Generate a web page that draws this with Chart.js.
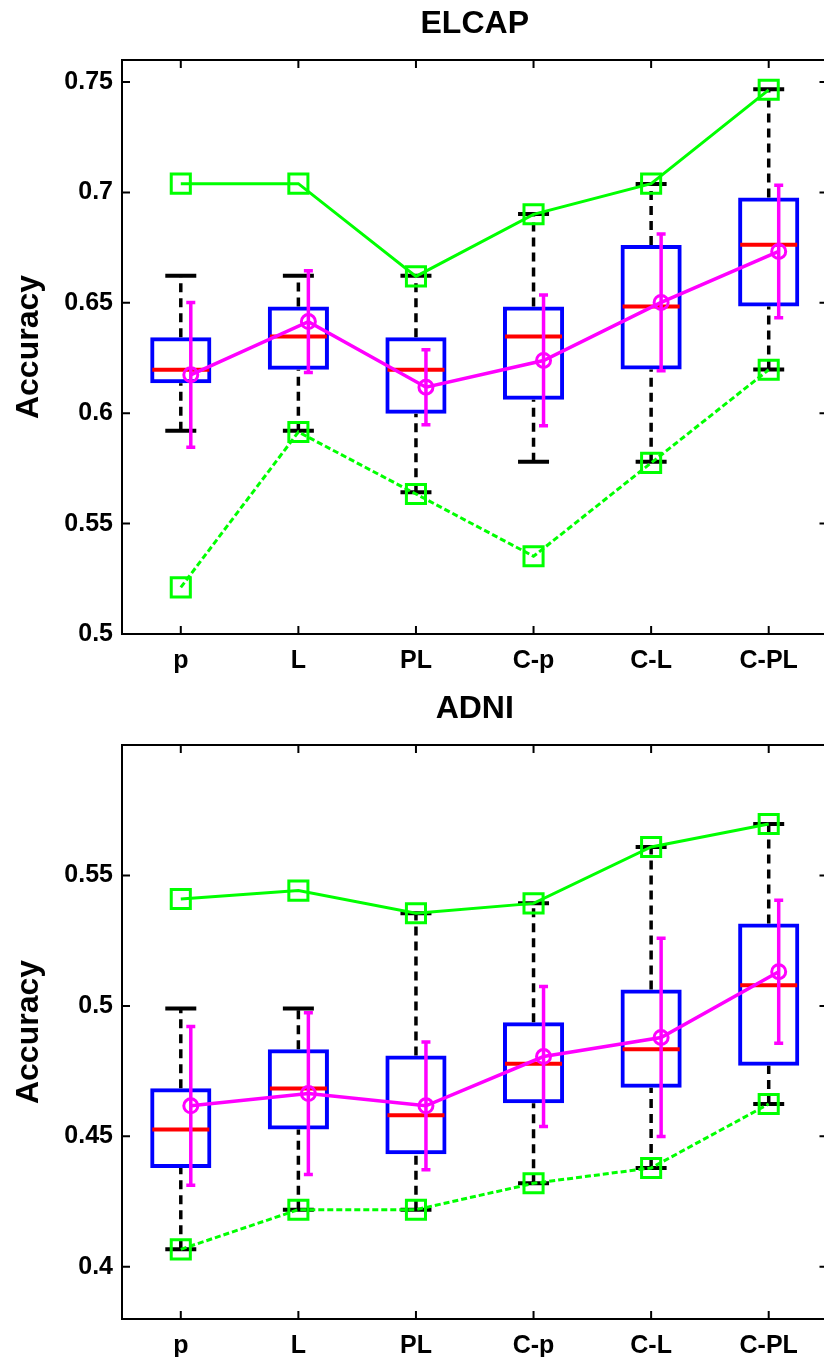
<!DOCTYPE html>
<html><head><meta charset="utf-8">
<script src="https://cdn.jsdelivr.net/npm/chart.js@4.4.1/dist/chart.umd.min.js"></script>
<style>
html,body{margin:0;padding:0;background:#fff;overflow:hidden;width:824px;height:1357px;position:relative;}
#c1{position:absolute;left:0;top:0;}
#c2{position:absolute;left:0;top:685px;}
</style></head><body>
<canvas id="c1" width="860" height="685"></canvas>
<canvas id="c2" width="860" height="672"></canvas>
<script>
// ---------- data ----------
const categories = ['p', 'L', 'PL', 'C-p', 'C-L', 'C-PL'];

const elcapTitle = 'ELCAP';
const elcapYTicks = [0.5, 0.55, 0.6, 0.65, 0.7, 0.75];
const elcapQ1     = [0.6136, 0.6197, 0.5998, 0.6061, 0.6198, 0.6484];
const elcapMedian = [0.6197, 0.6347, 0.6197, 0.6347, 0.6484, 0.6763];
const elcapQ3     = [0.6344, 0.6484, 0.6344, 0.6484, 0.6762, 0.6977];
const elcapWLow   = [0.5921, 0.5921, 0.5642, 0.5780, 0.5780, 0.6198];
const elcapWHigh  = [0.6623, 0.6623, 0.6623, 0.6902, 0.7038, 0.7468];
const elcapMax    = [0.7040, 0.7040, 0.6620, 0.6901, 0.7040, 0.7465];
const elcapMin    = [0.5211, 0.5915, 0.5634, 0.5352, 0.5775, 0.6197];
const elcapMean   = [0.6174, 0.6415, 0.6118, 0.6239, 0.6502, 0.6733];
const elcapSd     = [0.0328, 0.0230, 0.0170, 0.0296, 0.0310, 0.0300];

const adniTitle = 'ADNI';
const adniYTicks = [0.4, 0.45, 0.5, 0.55];
const adniQ1     = [0.4379, 0.4526, 0.4431, 0.4627, 0.4686, 0.4771];
const adniMedian = [0.4526, 0.4683, 0.4581, 0.4778, 0.4834, 0.5079];
const adniQ3     = [0.4684, 0.4834, 0.4810, 0.4937, 0.5063, 0.5316];
const adniWLow   = [0.4067, 0.4219, 0.4219, 0.4320, 0.4379, 0.4624];
const adniWHigh  = [0.4990, 0.4990, 0.5355, 0.5393, 0.5609, 0.5697];
const adniMax    = [0.5410, 0.5442, 0.5355, 0.5393, 0.5609, 0.5697];
const adniMin    = [0.4067, 0.4219, 0.4219, 0.4320, 0.4379, 0.4624];
const adniMean   = [0.4617, 0.4664, 0.4617, 0.4806, 0.4879, 0.5131];
const adniSd     = [0.0304, 0.0310, 0.0245, 0.0268, 0.0380, 0.0274];

// ---------- style ----------
const FONT = '"Liberation Sans", Arial, Helvetica, sans-serif';
const MEAN_SHIFT = 0.085;   // horizontal offset of mean/error bars (axis units)
const TICK_LEN = 8;
const PLOT_LEFT = 122;
const PLOT_BOTTOM = 634;
const PLOT_RIGHT_PAD = 27;

const framePlugin = {
  id: 'frame',
  afterDraw(chart) {
    const {ctx, chartArea: a, scales: {x, y}} = chart;
    ctx.save();
    ctx.strokeStyle = '#000';
    ctx.lineWidth = 2;
    ctx.strokeRect(a.left, a.top, a.right - a.left, a.bottom - a.top);
    ctx.beginPath();
    x.ticks.forEach(t => {
      const px = x.getPixelForValue(t.value);
      ctx.moveTo(px, a.bottom); ctx.lineTo(px, a.bottom - TICK_LEN);
      ctx.moveTo(px, a.top); ctx.lineTo(px, a.top + TICK_LEN);
    });
    y.ticks.forEach(t => {
      const py = y.getPixelForValue(t.value);
      ctx.moveTo(a.left, py); ctx.lineTo(a.left + TICK_LEN, py);
      ctx.moveTo(a.right, py); ctx.lineTo(a.right - TICK_LEN, py);
    });
    ctx.stroke();
    ctx.restore();
  }
};

function pts(arr, shift) {
  return arr.map((v, i) => ({x: i + 1 + (shift || 0), y: v}));
}

function build(id, height, title, yMin, yMax, yTicks, q1, med, q3, wLo, wHi, mx, mn, mean, sd) {
  const whisk = [];
  const caps = [];
  const err = [];
  const errCaps = [];
  categories.forEach((c, i) => {
    const xi = i + 1;
    whisk.push({x: xi, y: wLo[i]}, {x: xi, y: q1[i]}, {x: xi, y: null},
               {x: xi, y: q3[i]}, {x: xi, y: wHi[i]}, {x: xi, y: null});
    caps.push({x: xi, y: wLo[i]}, {x: xi, y: wHi[i]});
    const xm = xi + MEAN_SHIFT;
    err.push({x: xm, y: mean[i] - sd[i]}, {x: xm, y: mean[i] + sd[i]}, {x: xm, y: null});
    errCaps.push({x: xm, y: mean[i] - sd[i]}, {x: xm, y: mean[i] + sd[i]});
  });

  const datasets = [
    { type: 'line', data: pts(mx), borderColor: '#00ff00', borderWidth: 3,
      pointStyle: 'rect', pointRadius: 13.5, pointBorderWidth: 3,
      pointBorderColor: '#00ff00', pointBackgroundColor: 'rgba(0,0,0,0)', order: 1 },
    { type: 'line', data: pts(mn), borderColor: '#00ff00', borderWidth: 3, borderDash: [6, 3],
      pointStyle: 'rect', pointRadius: 13.5, pointBorderWidth: 3,
      pointBorderColor: '#00ff00', pointBackgroundColor: 'rgba(0,0,0,0)', order: 2 },
    { type: 'line', data: pts(mean, MEAN_SHIFT), borderColor: '#ff00ff', borderWidth: 3.5,
      pointStyle: 'circle', pointRadius: 7, pointBorderWidth: 3,
      pointBorderColor: '#ff00ff', pointBackgroundColor: 'rgba(0,0,0,0)', order: 3 },
    { type: 'line', data: err, borderColor: '#ff00ff', borderWidth: 3.5, spanGaps: false,
      pointRadius: 0, order: 4 },
    { type: 'line', data: errCaps, showLine: false, pointStyle: 'line', pointRadius: 4.5,
      pointBorderWidth: 3.5, pointBorderColor: '#ff00ff', order: 4 },
    { type: 'line', data: pts(med), showLine: false, pointStyle: 'line', pointRadius: 28.5,
      pointBorderWidth: 4, pointBorderColor: '#ff0000', order: 5 },
    { type: 'line', data: caps, showLine: false, pointStyle: 'line', pointRadius: 15.5,
      pointBorderWidth: 4, pointBorderColor: '#000', order: 6 },
    { type: 'line', data: whisk, borderColor: '#000', borderWidth: 3.5, borderDash: [9, 6],
      spanGaps: false, pointRadius: 0, order: 7 },
    { type: 'bar', data: categories.map((c, i) => ({x: i + 1, y: [q1[i], q3[i]]})),
      backgroundColor: 'rgba(0,0,0,0)', borderColor: '#0000ff', borderWidth: 4,
      borderSkipped: false, barPercentage: 0.52, categoryPercentage: 1, grouped: false, order: 8 }
  ];

  return new Chart(document.getElementById(id), {
    data: { datasets },
    plugins: [framePlugin],
    options: {
      responsive: false,
      animation: false,
      events: [],
      layout: { padding: { left: 0, right: PLOT_RIGHT_PAD, top: 0, bottom: 0 } },
      elements: { line: { tension: 0 } },
      plugins: {
        legend: { display: false },
        tooltip: { enabled: false },
        title: {
          display: true, text: title, color: '#000', fullSize: false,
          font: { family: FONT, size: 32, weight: 'bold', lineHeight: 1.2 },
          padding: { top: 5, bottom: 16.6 }
        }
      },
      scales: {
        x: {
          type: 'linear', min: 0.5, max: 6.5, offset: false,
          grid: { display: false, drawTicks: false, offset: false },
          border: { display: false },
          afterBuildTicks: s => { s.ticks = categories.map((c, i) => ({value: i + 1})); },
          afterFit: s => { s.height = height - PLOT_BOTTOM; },
          ticks: {
            autoSkip: false, maxRotation: 0, padding: 12, color: '#000',
            font: { family: FONT, size: 25, weight: 'bold' },
            callback: (v, i) => categories[i]
          }
        },
        y: {
          type: 'linear', min: yMin, max: yMax,
          grid: { display: false, drawTicks: false },
          border: { display: false },
          afterBuildTicks: s => { s.ticks = yTicks.map(v => ({value: v})); },
          afterFit: s => { s.width = PLOT_LEFT; },
          ticks: {
            padding: 9, color: '#000',
            font: { family: FONT, size: 25, weight: 'bold' },
            callback: v => String(v)
          },
          title: {
            display: true, text: 'Accuracy', color: '#000',
            font: { family: FONT, size: 32, weight: 'bold', lineHeight: 1.2 },
            padding: { top: 10, bottom: 0 }
          }
        }
      }
    }
  });
}

build('c1', 685, elcapTitle, 0.5, 0.76, elcapYTicks,
      elcapQ1, elcapMedian, elcapQ3, elcapWLow, elcapWHigh, elcapMax, elcapMin, elcapMean, elcapSd);
build('c2', 672, adniTitle, 0.38, 0.6, adniYTicks,
      adniQ1, adniMedian, adniQ3, adniWLow, adniWHigh, adniMax, adniMin, adniMean, adniSd);
</script>
</body></html>
